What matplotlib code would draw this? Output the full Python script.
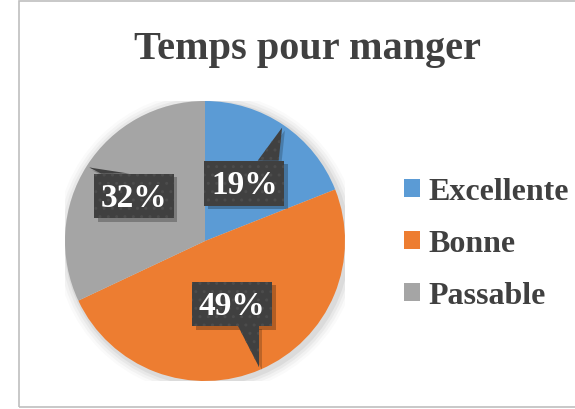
import numpy as np
import matplotlib
matplotlib.use("Agg")
import matplotlib.pyplot as plt
from matplotlib.patches import FancyBboxPatch, Polygon, Rectangle, Patch, Circle

# data
categories = ["Excellente", "Bonne", "Passable"]
values = [19, 49, 32]
colors = ["#5B9BD5", "#ED7D31", "#A5A5A5"]
title = "Temps pour manger"
label_radius = [0.50, 0.49, 0.60]

SERIF = ["Liberation Serif", "DejaVu Serif"]
TXT = "#404040"

plt.rcParams["hatch.linewidth"] = 1.0

fig = plt.figure(figsize=(5.75, 4.1), dpi=100)
fig.patch.set_facecolor("white")

# chart border (right edge runs off the image)
fig.patches.append(Rectangle((19 / 575, 2 / 410), 1.2, 406 / 410, transform=fig.transFigure,
                             fill=False, edgecolor="#BFBFBF", linewidth=1.2))

fig.text(307 / 575, 1 - 50 / 410, title, ha="center", va="center",
         fontsize=29, fontweight="bold", family=SERIF, color=TXT)

ax = fig.add_axes([65 / 575, 28 / 410, 280 / 575, 280 / 410])
ax.set_xlim(-1, 1)
ax.set_ylim(-1, 1)
ax.set_aspect("equal")
ax.axis("off")

# soft shadow behind the pie
for i, a in enumerate([0.05, 0.04, 0.03, 0.02]):
    ax.add_patch(Circle((0.015, -0.015), 1.0 + 0.02 * (i + 1), color="black", alpha=a,
                        lw=0, zorder=0))

wedges, _ = ax.pie(values, colors=colors, startangle=90, counterclock=False, radius=1,
                   wedgeprops=dict(linewidth=0), frame=False)
for w in wedges:
    w.set_zorder(1)
ax.set_xlim(-1, 1)
ax.set_ylim(-1, 1)

# callout labels
bw, bh = 0.57, 0.32
total = sum(values)
for w, v, r in zip(wedges, values, label_radius):
    mid = np.deg2rad((w.theta1 + w.theta2) / 2)
    cx, cy = r * np.cos(mid), r * np.sin(mid)
    tx, ty = 0.98 * np.cos(mid), 0.98 * np.sin(mid)
    left, right = cx - bw / 2, cx + bw / 2
    ey = cy + bh / 2 if ty > cy else cy - bh / 2
    x1 = min(max(tx, left + 0.06), right - 0.04)
    x0 = max(x1 - 0.15, left + 0.02)
    if tx < left:
        x0, x1 = left + 0.05, left + 0.25
    tail = [(x0, ey), (x1, ey), (tx, ty)]
    # shadow
    ax.add_patch(FancyBboxPatch((left + 0.025, cy - bh / 2 - 0.025), bw, bh,
                                boxstyle="square,pad=0", fc="black", alpha=0.25, lw=0, zorder=3))
    ax.add_patch(Polygon([(x + 0.02, y - 0.02) for x, y in tail], closed=True,
                         fc="black", alpha=0.2, lw=0, zorder=3))
    ax.add_patch(FancyBboxPatch((left, cy - bh / 2), bw, bh, boxstyle="square,pad=0",
                                fc="#404040", ec="#4C4C4C", hatch="..", lw=0, zorder=4))
    ax.add_patch(Polygon(tail, closed=True, fc="#404040", ec="#4C4C4C", hatch="..",
                         lw=0, zorder=4))
    ax.text(cx, cy - 0.01, f"{round(100 * v / total)}%", ha="center", va="center",
            fontsize=24, fontweight="bold", family=SERIF, color="white", zorder=5)

handles = [Patch(facecolor=c, edgecolor="none") for c in colors]
fig.legend(handles, categories, loc="center left", bbox_to_anchor=(404 / 575, 1 - 245 / 410),
           frameon=False, borderpad=0, borderaxespad=0, handlelength=0.5, handleheight=0.5,
           handletextpad=0.25, labelspacing=0.72, prop=dict(family=SERIF, weight="bold", size=23),
           labelcolor=TXT)

fig.savefig("out.png", dpi=100, facecolor="white")
